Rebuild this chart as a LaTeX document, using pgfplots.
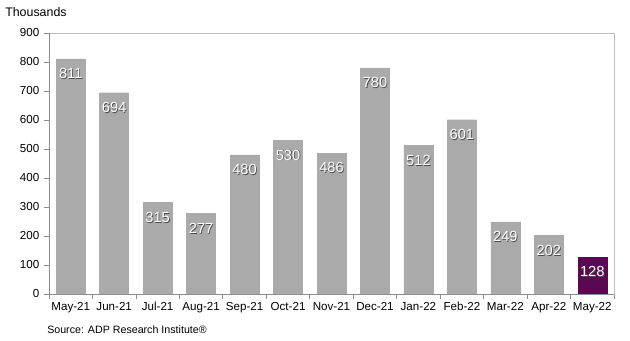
\documentclass[border=0pt]{standalone}
\usepackage{pgfplots}
\pgfplotsset{compat=1.18}
\usepackage{fontspec}
\setmainfont{Liberation Sans}
\definecolor{bargray}{RGB}{170,170,170}
\definecolor{barpurple}{RGB}{90,8,82}
\definecolor{axgray}{RGB}{140,140,140}
\definecolor{framegray}{RGB}{190,190,190}
\begin{document}
\begin{tikzpicture}
\useasboundingbox (0,0) rectangle (472.5pt,255.75pt);
\begin{axis}[
  at={(36.75pt,35.25pt)}, anchor=south west,
  scale only axis, width=423.75pt, height=195.75pt,
  xmin=-0.5, xmax=12.5, ymin=0, ymax=900,
  ytick={0,100,...,900},
  xtick={0,...,12},
  xticklabels={May-21,Jun-21,Jul-21,Aug-21,Sep-21,Oct-21,Nov-21,Dec-21,Jan-22,Feb-22,Mar-22,Apr-22,May-22},
  minor xtick={-0.5,0.5,...,12.5},
  major x tick style={draw=none},
  tick align=outside, xtick pos=bottom, ytick pos=left,
  major tick length=3.75pt, minor tick length=3.75pt,
  tick style={axgray, line width=0.6pt},
  axis line style={framegray, line width=0.6pt},
  every tick label/.append style={font=\fontsize{8.7}{10}\selectfont, text=black},
  /pgf/number format/assume math mode=true,
  xticklabel style={yshift=1pt},
  ybar, bar width=21.75pt, bar shift=0pt,
  clip=false,
]
\addplot[fill=bargray, draw=bargray, line width=0.3pt] coordinates {
 (0,811) (1,694) (2,315) (3,277) (4,480) (5,530) (6,486) (7,780) (8,512) (9,601) (10,249) (11,202)};
\addplot[fill=barpurple, draw=barpurple, line width=0.3pt] coordinates {(12,128)};
\addplot[draw=none, fill=none,
  nodes near coords,
  every node near coord/.append style={anchor=north, inner sep=0pt, yshift=-7.6pt, xshift=0.6pt, text=black!70, font=\fontsize{11}{13}\selectfont, /pgf/number format/assume math mode=true}]
 coordinates {(0,811) (1,694) (2,315) (3,277) (4,480) (5,530) (6,486) (7,780) (8,512) (9,601) (10,249) (11,202) (12,128)};
\addplot[draw=none, fill=none,
  nodes near coords,
  every node near coord/.append style={anchor=north, inner sep=0pt, yshift=-7pt, text=white, font=\fontsize{11}{13}\selectfont, /pgf/number format/assume math mode=true}]
 coordinates {(0,811) (1,694) (2,315) (3,277) (4,480) (5,530) (6,486) (7,780) (8,512) (9,601) (10,249) (11,202) (12,128)};
\end{axis}
\draw[axgray, line width=0.6pt] (36.75pt,35.25pt) -- (36.75pt,231pt);
\draw[axgray, line width=0.6pt] (36.75pt,35.25pt) -- (460.5pt,35.25pt);
\node[anchor=west, inner sep=0pt, font=\fontsize{9.3}{11}\selectfont] at (3.75pt,246.75pt) {Thousands};
\node[anchor=west, inner sep=0pt, font=\fontsize{8}{9}\selectfont] at (35.25pt,8.25pt) {Source: ADP Research Institute®};
\end{tikzpicture}
\end{document}
